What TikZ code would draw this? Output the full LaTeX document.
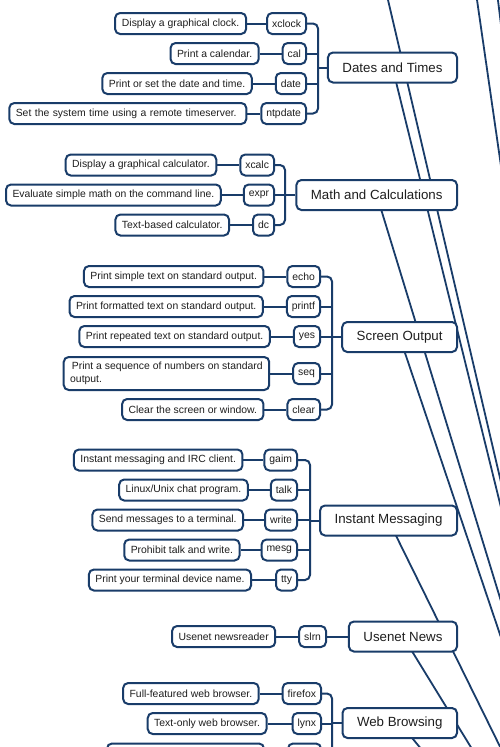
\documentclass[tikz,border=0pt]{standalone}
\usepackage{fontspec}
\setmainfont{Liberation Sans}
\usetikzlibrary{positioning,backgrounds}
\definecolor{navy}{RGB}{25,60,105}
\definecolor{txt}{RGB}{30,30,30}
\begin{document}
\begin{tikzpicture}[x=1pt,y=-1pt,
  box/.style={draw=navy,line width=2pt,rounded corners=5pt,fill=white,text=txt,minimum height=21pt,inner ysep=0pt},
  desc/.style={box,inner xsep=6.5pt,font=\fontsize{10.4}{12.5}\selectfont},
  cmd/.style={box,inner xsep=5pt,font=\fontsize{10.4}{12.5}\selectfont},
  topic/.style={box,minimum height=30pt,inner xsep=14.5pt,font=\fontsize{13.3}{16}\selectfont},
  conn/.style={navy,line width=2pt},
  trunk/.style={navy,line width=1.8pt},
  brk/.style={conn,rounded corners=5pt}
]
\useasboundingbox (0,0) rectangle (500,747);
\clip (0,0) rectangle (500,747);

% ---------- Dates and Times ----------
\node[topic,anchor=east] (t1) at (458,67.5) {Dates and Times};
\coordinate (b1) at (318,67.5);
\node[cmd,anchor=east] (c11) at (307,23.5) {xclock};
\node[cmd,anchor=east] (c12) at (307,53.5) {cal};
\node[cmd,anchor=east] (c13) at (307,83.5) {date};
\node[cmd,anchor=east] (c14) at (307,113.5) {ntpdate};
\node[desc,left=19pt of c11,minimum width=131pt] (d11) {Display a graphical clock.};
\node[desc,left=22pt of c12] (d12) {Print a calendar.};
\node[desc,left=22pt of c13] (d13) {Print or set the date and time.};
\node[desc,left=13pt of c14,text width=224pt,align=left] (d14) {Set the system time using a remote timeserver.};
\foreach \i in {1,...,4} {\draw[conn] (d1\i) -- (c1\i);}
\draw[brk] (c11.east) -| (b1) |- (c14.east);
\draw[conn] (c12.east) -- (c12.east -| b1);
\draw[conn] (c13.east) -- (c13.east -| b1);
\draw[conn] (t1.west) -- (b1);

% ---------- Math and Calculations ----------
\node[topic,anchor=east] (t2) at (458,195) {Math and Calculations};
\coordinate (b2) at (285,195);
\node[cmd,anchor=east] (c21) at (275,165) {xcalc};
\node[cmd,anchor=east] (c22) at (275,195) {expr};
\node[cmd,anchor=east] (c23) at (275,225) {dc};
\node[desc,left=22pt of c21] (d21) {Display a graphical calculator.};
\node[desc,left=21pt of c22] (d22) {Evaluate simple math on the command line.};
\node[desc,left=22pt of c23] (d23) {Text-based calculator.};
\foreach \i in {1,...,3} {\draw[conn] (d2\i) -- (c2\i);}
\draw[brk] (c21.east) -| (b2) |- (c23.east);
\draw[conn] (c22.east) -- (b2);
\draw[conn] (t2.west) -- (b2);

% ---------- Screen Output ----------
\node[topic,anchor=east] (t3) at (458,337) {Screen Output};
\coordinate (b3) at (332,337);
\node[cmd,anchor=east] (c31) at (321,276.5) {echo};
\node[cmd,anchor=east] (c32) at (321,306.5) {printf};
\node[cmd,anchor=east] (c33) at (321,336.5) {yes};
\node[cmd,anchor=east] (c34) at (321,373.5) {seq};
\node[cmd,anchor=east] (c35) at (321,409.5) {clear};
\node[desc,left=22pt of c31] (d31) {Print simple text on standard output.};
\node[desc,left=22pt of c32] (d32) {Print formatted text on standard output.};
\node[desc,left=22pt of c33] (d33) {Print repeated text on standard output.};
\node[desc,left=22pt of c34,align=left,minimum height=33pt] (d34) {\,Print a sequence of numbers on standard\\output.};
\node[desc,left=22pt of c35] (d35) {Clear the screen or window.};
\foreach \i in {1,...,5} {\draw[conn] (d3\i) -- (c3\i);}
\draw[brk] (c31.east) -| (b3) |- (c35.east);
\draw[conn] (c32.east) -- (c32.east -| b3);
\draw[conn] (c33.east) -- (c33.east -| b3);
\draw[conn] (c34.east) -- (c34.east -| b3);
\draw[conn] (t3.west) -- (b3);

% ---------- Instant Messaging ----------
\node[topic,anchor=east] (t4) at (458,520.5) {Instant Messaging};
\coordinate (b4) at (310,520.5);
\node[cmd,anchor=east] (c41) at (298,460) {gaim};
\node[cmd,anchor=east] (c42) at (298,490) {talk};
\node[cmd,anchor=east] (c43) at (298,520) {write};
\node[cmd,anchor=east] (c44) at (298,550) {mesg};
\node[cmd,anchor=east] (c45) at (298,580) {tty};
\node[desc,left=20pt of c41] (d41) {Instant messaging and IRC client.};
\node[desc,left=21pt of c42] (d42) {Linux/Unix chat program.};
\node[desc,left=20pt of c43] (d43) {Send messages to a terminal.};
\node[desc,left=20pt of c44] (d44) {Prohibit talk and write.};
\node[desc,left=23pt of c45] (d45) {Print your terminal device name.};
\foreach \i in {1,...,5} {\draw[conn] (d4\i) -- (c4\i);}
\draw[brk] (c41.east) -| (b4) |- (c45.east);
\draw[conn] (c42.east) -- (c42.east -| b4);
\draw[conn] (c43.east) -- (c43.east -| b4);
\draw[conn] (c44.east) -- (c44.east -| b4);
\draw[conn] (t4.west) -- (b4);

% ---------- Usenet News ----------
\node[topic,anchor=east] (t5) at (458,636.5) {Usenet News};
\node[cmd,anchor=east] (c51) at (327,636.5) {slrn};
\node[desc,left=22pt of c51] (d51) {Usenet newsreader};
\draw[conn] (d51) -- (c51);
\draw[conn] (c51) -- (t5);

% ---------- Web Browsing ----------
\node[topic,anchor=east] (t6) at (458,723) {Web Browsing};
\coordinate (b6) at (332,723);
\coordinate (b6end) at (332,800);
\node[cmd,anchor=east] (c61) at (322,693.5) {firefox};
\node[cmd,anchor=east] (c62) at (322,723.5) {lynx};
\node[cmd,anchor=east,minimum width=33pt] (c63) at (322,754) {};
\node[desc,left=22pt of c61] (d61) {Full-featured web browser.};
\node[desc,left=24pt of c62] (d62) {Text-only web browser.};
\node[desc,left=22pt of c63,minimum width=157pt] (d63) {};
\foreach \i in {1,...,3} {\draw[conn] (d6\i) -- (c6\i);}
\draw[brk] (c61.east) -| (b6end);
\draw[conn] (c62.east) -- (c62.east -| b6);
\draw[conn] (c63.east) -- (c63.east -| b6);
\draw[conn] (t6.west) -- (b6);

% ---------- trunk lines to the central topic ----------
\begin{scope}[on background layer]
  \clip (0,0) rectangle (500,747);
  \fill[white] (0,0) rectangle (500,747);
  \coordinate (hub) at (620,990);
  \coordinate (tA) at (376.3,-50);
  \coordinate (tC) at (469.8,-50);
  \coordinate (tD) at (491.8,-50);
  \foreach \n in {t1,t2,t3,t4,t5,t6} {\draw[trunk] (\n.center) -- (hub);}
  \foreach \n in {tA,tC,tD} {\draw[trunk] (\n) -- (hub);}
\end{scope}
\end{tikzpicture}
\end{document}
